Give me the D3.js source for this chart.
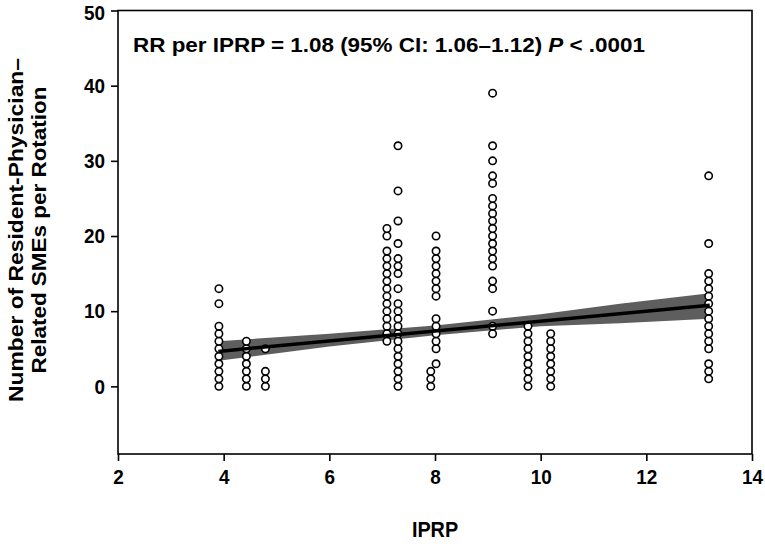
<!DOCTYPE html>
<html><head><meta charset="utf-8">
<script src="https://cdn.jsdelivr.net/npm/d3@7"></script>
<style>
html,body{margin:0;padding:0;background:#fff;}
svg text{font-family:"Liberation Sans",Arial,Helvetica,sans-serif;font-weight:bold;fill:#000;}
</style></head>
<body><svg id="c" width="765" height="547"></svg>
<script>
// ---- data ----
const iprpColumns = [3.91, 4.43, 4.79, 7.09, 7.30, 7.92, 8.02, 9.09, 9.76, 10.19, 13.18];
const smeCounts = [
  [0,1,2,3,4,5,6,7,8,11,13],
  [0,1,2,3,4,5,6],
  [0,1,2,5],
  [6,7,8,9,10,11,12,13,14,15,16,17,18,20,21],
  [0,1,2,3,4,5,6,7,8,9,10,11,13,15,16,17,19,22,26,32],
  [0,1,2],
  [3,5,6,7,8,9,12,13,14,15,16,17,18,20],
  [7,8,10,13,14,16,17,18,19,20,21,22,23,24,25,27,28,30,32,39],
  [0,1,2,3,4,5,6,7,8],
  [0,1,2,3,4,5,6,7],
  [1,2,3,5,6,7,8,9,10,11,12,13,14,15,19,28]
];
const fitX = [3.9, 13.2];
const fitY = [4.65, 10.8];
const bandX  = [3.9, 6.0, 8.0, 10.0, 11.5, 13.2];
const bandLo = [3.4, 5.3, 6.8, 8.0, 8.4, 9.0];
const bandHi = [6.0, 7.0, 8.1, 9.6, 11.0, 12.4];
const xTicks = [2,4,6,8,10,12,14];
const yTicks = [0,10,20,30,40,50];
const annotation = ["RR per IPRP = 1.08 (95% CI: 1.06\u20131.12) ", "P", " < .0001"];
const yTitle = ["Number of Resident-Physician\u2013", "Related SMEs per Rotation"];
const xTitle = "IPRP";

// ---- layout ----
const L = 118, R = 752, T = 10.5, B = 454;
const x = d3.scaleLinear().domain([2,14]).range([L,R]);
const y = d3.scaleLinear().domain([-9,50]).range([B,T]);
const svg = d3.select("#c");

function squeeze(sel, f){
  sel.each(function(){
    const w = this.getComputedTextLength();
    d3.select(this).attr("textLength", w*f).attr("lengthAdjust","spacingAndGlyphs");
  });
}
function fitTo(sel, w){
  sel.attr("textLength", w).attr("lengthAdjust","spacingAndGlyphs");
}

// band
const bandData = bandX.map((v,i)=>({x:v, lo:bandLo[i], hi:bandHi[i]}));
svg.append("path").datum(bandData)
  .attr("d", d3.area().x(d=>x(d.x)).y0(d=>y(d.lo)).y1(d=>y(d.hi)))
  .attr("fill","#5e5e5e");

// points
const pts = [];
iprpColumns.forEach((xv,i)=>smeCounts[i].forEach(v=>pts.push({x:xv,y:v})));
svg.append("g").selectAll("circle").data(pts).join("circle")
  .attr("cx",d=>x(d.x)).attr("cy",d=>y(d.y)).attr("r",3.7)
  .attr("fill","#fff").attr("stroke","#000").attr("stroke-width",1.6);

// fit line
svg.append("path").datum(fitX.map((v,i)=>[v,fitY[i]]))
  .attr("d", d3.line().x(d=>x(d[0])).y(d=>y(d[1])))
  .attr("stroke","#000").attr("stroke-width",3.5).attr("fill","none");

// frame
svg.append("rect").attr("x",L).attr("y",T).attr("width",R-L).attr("height",B-T)
  .attr("fill","none").attr("stroke","#000").attr("stroke-width",1.6);

// axes
const xa = svg.append("g").attr("transform",`translate(0,${B})`)
  .call(d3.axisBottom(x).tickValues(xTicks).tickSize(7).tickPadding(8).tickFormat(d3.format("d")));
const ya = svg.append("g").attr("transform",`translate(${L},0)`)
  .call(d3.axisLeft(y).tickValues(yTicks).tickSize(7).tickPadding(6).tickFormat(d3.format("d")));
[xa,ya].forEach(a=>{
  a.select(".domain").remove();
  a.selectAll("line").attr("stroke","#000").attr("stroke-width",1.6);
  a.selectAll("text").style("font-size","21px").style("font-family","'Liberation Sans',Arial,sans-serif").style("font-weight","bold");
  squeeze(a.selectAll("text"), 0.9);
});
ya.selectAll(".tick").filter(d=>d===50).select("text").attr("dy","0.42em");

// annotation
const ann = svg.append("text").attr("x",133).attr("y",52).style("font-size","21px");
annotation.forEach((s,i)=>ann.append("tspan").text(s).style("font-style", i===1?"italic":"normal"));
fitTo(ann, 512);

// x title
const xt = svg.append("text").attr("x",435).attr("y",537).attr("text-anchor","middle")
  .style("font-size","22px").text(xTitle);
squeeze(xt, 0.9);

// y title
const yTitleLen = [344, 287];
yTitle.forEach((s,i)=>{
  const t = svg.append("text").attr("transform",`translate(${23+i*23},230) rotate(-90)`)
    .attr("text-anchor","middle").style("font-size","21px").text(s);
  fitTo(t, yTitleLen[i]);
});
</script></body></html>
